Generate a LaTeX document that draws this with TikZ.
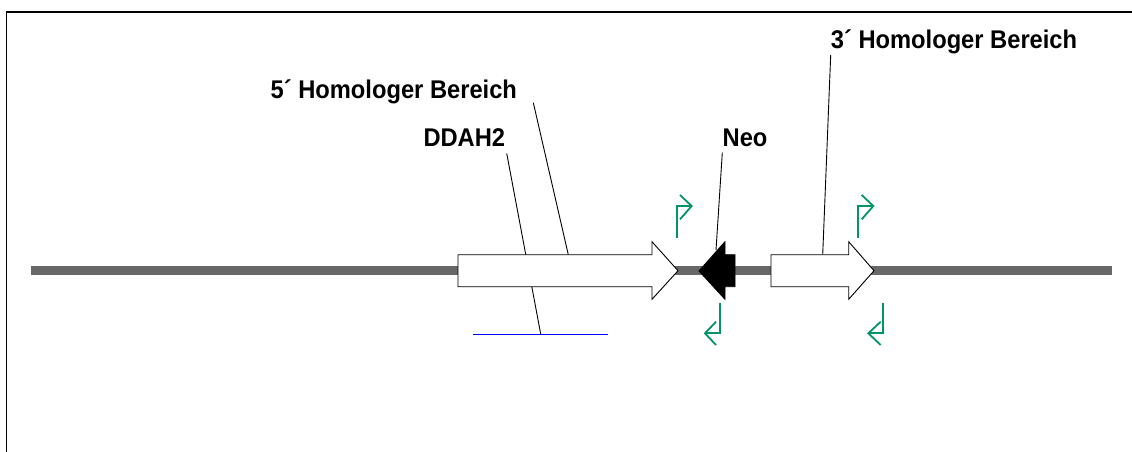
\documentclass[tikz,border=0pt]{standalone}
\usepackage{fontspec}
\setmainfont{Liberation Sans}
\definecolor{dnagray}{RGB}{104,104,104}
\definecolor{promgreen}{RGB}{0,150,100}
\definecolor{probeblue}{RGB}{0,0,255}
\newcommand{\tallbold}[1]{\scalebox{1}[1.08]{#1}}
\begin{document}
\begin{tikzpicture}[x=1pt,y=-1pt,
  lbl/.style={inner sep=0pt,anchor=base west,font=\bfseries\fontsize{23.7}{28}\selectfont},
  pointer/.style={draw=black,line width=0.9pt},
  genebox/.style={draw=black,line width=0.9pt,fill=white,line join=miter},
  neobox/.style={draw=black,line width=0.9pt,fill=black},
  prom/.style={draw=promgreen,line width=1.8pt,line join=miter}]
\useasboundingbox (0,0) rectangle (1132,451);
% frame
\draw[line width=1.8pt] (1133,12) -- (6.5,12) -- (6.5,452);
% DNA backbone
\draw[dnagray,line width=9pt] (31,270.5) -- (1112,270.5);
% probe
\coordinate (pbL) at (473.3,334);
\coordinate (pbR) at (608.3,334);
\draw[probeblue,line width=0.9pt] (pbL) -- (pbR);
% labels
\node[lbl] (h5) at (270.5,98.8) {\tallbold{5´ Homologer Bereich}};
\node[lbl] (ddah) at (423.3,146.7) {\tallbold{DDAH2}};
\node[lbl] (neo) at (722.5,146.7) {\tallbold{Neo}};
\node[lbl] (h3) at (830.7,48.3) {\tallbold{3´ Homologer Bereich}};
% pointer end points
\coordinate (h5s) at (533.3,102.7);
\coordinate (h5e) at (568.3,254.7);
\coordinate (dds) at (506.7,153.3);
\coordinate (dde) at (540.7,334);
\coordinate (neos) at (722.3,152.7);
\coordinate (neoe) at (716,250);
\coordinate (h3s) at (830.7,55);
\coordinate (h3e) at (822.7,254.7);
\draw[pointer] (h5s) -- (h5e);
\draw[pointer] (dds) -- (dde);
\draw[pointer] (neos) -- (neoe);
\draw[pointer] (h3s) -- (h3e);
% gene arrows
\path[genebox] (458,254.7) -- (652,254.7) -- (652,241.7) -- (678,270.7) -- (652,299.3) -- (652,286.7) -- (458,286.7) -- cycle;
\path[neobox] (735,254.7) -- (725,254.7) -- (725,241.7) -- (699,271) -- (725,299.3) -- (725,286.7) -- (735,286.7) -- cycle;
\path[genebox] (771,254.7) -- (848.7,254.7) -- (848.7,241.7) -- (874,270.7) -- (848.7,299.3) -- (848.7,286.7) -- (771,286.7) -- cycle;
% promoters
\draw[prom] (676.7,238) -- (676.7,206) -- (691.7,206);
\draw[prom] (680,195) -- (691.7,206) -- (680,219.3);
\draw[prom] (858.3,238) -- (858.3,206) -- (873.3,206);
\draw[prom] (861.7,195) -- (873.3,206) -- (861.7,219.3);
\draw[prom] (720,302.7) -- (720,333.3) -- (705,333.3);
\draw[prom] (716,321.7) -- (705,333.3) -- (716,345);
\draw[prom] (883.3,302.7) -- (883.3,333.3) -- (868.3,333.3);
\draw[prom] (880.7,321.7) -- (868.3,333.3) -- (880.7,345);
\end{tikzpicture}
\end{document}
